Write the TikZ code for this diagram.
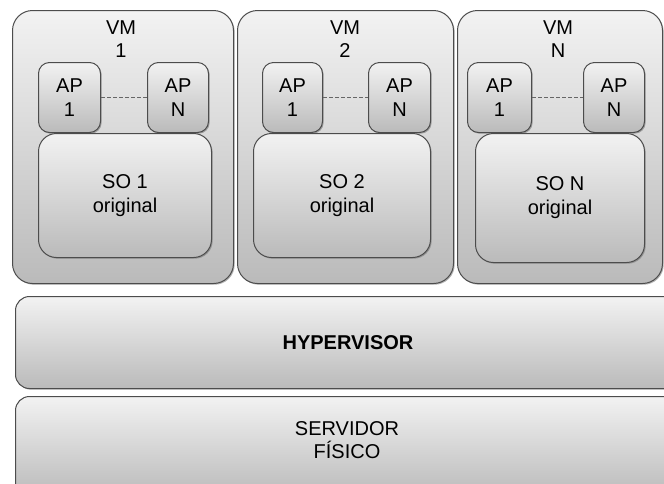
\documentclass[tikz,border=0pt]{standalone}
\usepackage{fontspec}
\setmainfont{Liberation Sans}
\usetikzlibrary{shadows}

\begin{document}
\begin{tikzpicture}[x=1pt,y=-1pt,
    box/.style={draw=black!70, line width=1pt, top color=black!5, bottom color=black!27,
        drop shadow={shadow xshift=1.2pt, shadow yshift=-1.2pt, fill=black!60, opacity=0.5},
        anchor=north west, inner sep=0pt, align=center, font=\fontsize{20}{24}\selectfont},
    vmbox/.style={box, rounded corners=20pt, minimum height=273pt},
    apbox/.style={box, rounded corners=11pt, minimum height=70pt},
    sobox/.style={box, rounded corners=18pt},
    layer/.style={box, rounded corners=14pt, minimum width=665pt},
    txt/.style={align=center, inner sep=0pt, font=\fontsize{20}{23}\selectfont},
    dots/.style={draw=black!60, line width=0.8pt, dash pattern=on 3.5pt off 2.5pt}]
    \useasboundingbox (0,0) rectangle (664,483);
    \fill[white] (0,0) rectangle (664,483);

    \node[vmbox, minimum width=221pt] (vm1) at (12,10) {};
    \node[vmbox, minimum width=216pt] (vm2) at (237,10) {};
    \node[vmbox, minimum width=205pt] (vmn) at (457,10) {};
    \node[txt] (vm1t) at (121,39) {VM\\1};
    \node[txt] (vm2t) at (345,39) {VM\\2};
    \node[txt] (vmnt) at (558,39) {VM\\N};

    \node[apbox, minimum width=62pt] (ap11) at (38,62) {AP\\1};
    \node[apbox, minimum width=61pt] (ap1n) at (147,62) {AP\\N};
    \node[apbox, minimum width=60pt] (ap21) at (262,62) {AP\\1};
    \node[apbox, minimum width=62pt] (ap2n) at (368,62) {AP\\N};
    \node[apbox, minimum width=64pt] (apn1) at (467,62) {AP\\1};
    \node[apbox, minimum width=61pt] (apnn) at (583,62) {AP\\N};
    \draw[dots] (ap11) -- (ap1n);
    \draw[dots] (ap21) -- (ap2n);
    \draw[dots] (apn1) -- (apnn);

    \node[sobox, minimum width=173pt, minimum height=124pt] (so1) at (38,133) {SO 1\\original};
    \node[sobox, minimum width=177pt, minimum height=124pt] (so2) at (253,133) {SO 2\\original};
    \node[sobox, minimum width=169pt, minimum height=129pt] (son) at (475,133) {SO N\\original};

    \node[layer, minimum height=92pt, font=\fontsize{20}{24}\selectfont\bfseries] (hyp) at (15,296) {HYPERVISOR};
    \node[layer, minimum height=100pt] (srv) at (15,396) {};
    \node[txt] (srvt) at (347,440) {SERVIDOR\\FÍSICO};
\end{tikzpicture}
\end{document}
